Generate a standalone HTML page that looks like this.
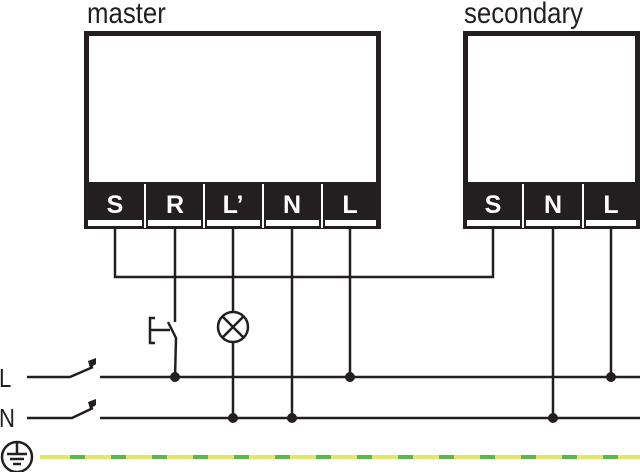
<!DOCTYPE html>
<html><head><style>
html,body{margin:0;padding:0;background:#fff;}
svg{display:block;}
</style></head><body>
<svg width="640" height="472" viewBox="0 0 640 472" xmlns="http://www.w3.org/2000/svg">
<g stroke="#231f20" fill="none">
<rect x="86.5" y="33.5" width="292" height="193" stroke-width="5" fill="#fff"/>
<rect x="86" y="182" width="293" height="46" fill="#231f20" stroke="none"/>
<rect x="465.5" y="33.5" width="172" height="193" stroke-width="5" fill="#fff"/>
<rect x="465" y="182" width="175" height="46" fill="#231f20" stroke="none"/>
</g>
<g fill="#fff">
<rect x="88" y="220" width="54" height="6"/>
<rect x="148" y="220" width="53" height="6"/>
<rect x="207" y="220" width="53" height="6"/>
<rect x="266" y="220" width="53" height="6"/>
<rect x="325" y="220" width="51" height="6"/>
<rect x="467" y="220" width="53" height="6"/>
<rect x="526" y="220" width="54" height="6"/>
<rect x="586" y="220" width="50" height="6"/>
</g>
<g stroke="#fff" stroke-width="2">
<line x1="145" y1="184" x2="145" y2="228"/>
<line x1="204" y1="184" x2="204" y2="228"/>
<line x1="263" y1="184" x2="263" y2="228"/>
<line x1="322" y1="184" x2="322" y2="228"/>
<line x1="523" y1="184" x2="523" y2="228"/>
<line x1="583" y1="184" x2="583" y2="228"/>
</g>
<g fill="#fff" style="font-family:'Liberation Sans',sans-serif;font-weight:bold;font-size:25px" text-anchor="middle">
<text x="115" y="213">S</text>
<text x="175" y="213">R</text>
<text x="233" y="213">L’</text>
<text x="292" y="213">N</text>
<text x="350" y="213">L</text>
<text x="493" y="213">S</text>
<text x="553" y="213">N</text>
<text x="611" y="213">L</text>
</g>
<g fill="#231f20" style="font-family:'Liberation Sans',sans-serif;font-size:30px">
<text transform="translate(87 23) scale(0.86 1)">master</text>
<text transform="translate(464 23) scale(0.86 1)">secondary</text>
</g>
<g fill="#231f20" style="font-family:'Liberation Sans',sans-serif;font-size:26px">
<text transform="translate(-1 387) scale(0.85 1)">L</text>
<text transform="translate(-1 427) scale(0.85 1)">N</text>
</g>
<g stroke="#231f20" stroke-width="2.5" fill="none">
<polyline points="115,228 115,277 493,277 493,228"/>
<line x1="175" y1="228" x2="175" y2="322"/>
<polyline points="155,318 150,318 150,343 155,343"/>
<line x1="150" y1="330" x2="170" y2="330"/>
<polyline points="168,322 176,338 175,378"/>
<line x1="233" y1="228" x2="233" y2="312"/>
<circle cx="233" cy="327" r="15"/>
<line x1="222.4" y1="316.4" x2="243.6" y2="337.6"/>
<line x1="243.6" y1="316.4" x2="222.4" y2="337.6"/>
<line x1="233" y1="342" x2="233" y2="418"/>
<line x1="292" y1="228" x2="292" y2="418"/>
<line x1="350" y1="228" x2="350" y2="378"/>
<line x1="553" y1="228" x2="553" y2="418"/>
<line x1="611" y1="228" x2="611" y2="378"/>
<polyline points="27,377 70,377 93,367"/>
<line x1="100" y1="377" x2="640" y2="377"/>
<polyline points="27,418 72,418 93,408"/>
<line x1="100" y1="418" x2="640" y2="418"/>
<circle cx="17" cy="457" r="15"/>
<line x1="17" y1="443" x2="17" y2="454"/>
<line x1="7" y1="454" x2="27" y2="454"/>
<line x1="10" y1="459" x2="24" y2="459"/>
<line x1="13" y1="464" x2="21" y2="464"/>
</g>
<g fill="#231f20">
<path d="M88 361 L96 358 L96 364 L90 368 Z"/>
<path d="M88 402 L96 399 L96 405 L90 409 Z"/>
<circle cx="175" cy="377" r="5"/>
<circle cx="350" cy="377" r="5"/>
<circle cx="611" cy="377" r="5"/>
<circle cx="233" cy="418" r="5"/>
<circle cx="292" cy="418" r="5"/>
<circle cx="553" cy="418" r="5"/>
</g>
<line x1="40" y1="457" x2="640" y2="457" stroke="#e3e86a" stroke-width="4"/>
<line x1="70" y1="457" x2="640" y2="457" stroke="#5cb84a" stroke-width="4" stroke-dasharray="15 26"/>
</svg>
</body></html>
